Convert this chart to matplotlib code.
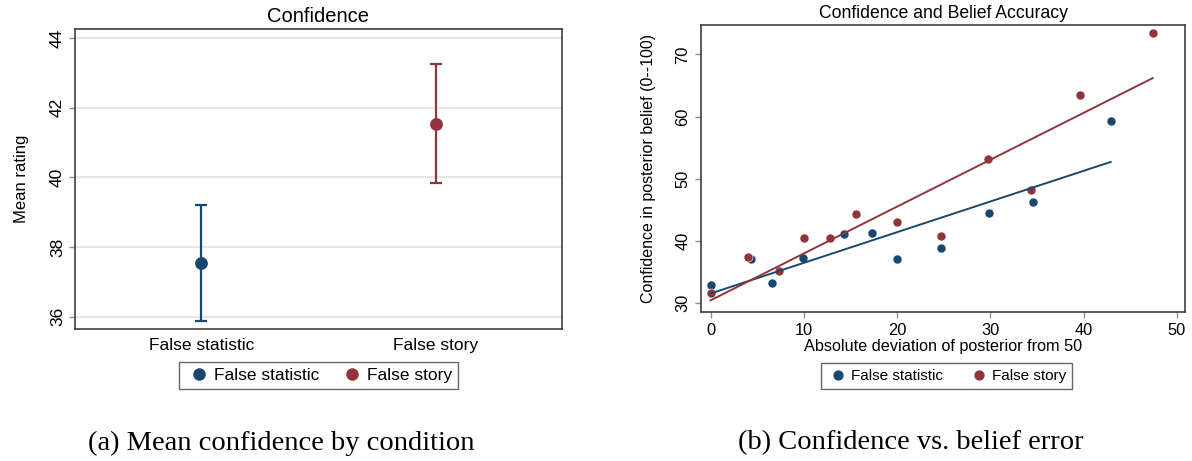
import matplotlib.pyplot as plt
import numpy as np

plt.rcParams['font.family'] = ['Liberation Sans', 'DejaVu Sans']

navy = '#1a476f'
maroon = '#90353b'
labels = ['False statistic', 'False story']

# panel (a): condition means with 95% intervals
means = [37.54, 41.54]
ci_low = [35.88, 39.84]
ci_high = [39.20, 43.26]

# panel (b): binned scatter, |posterior - 50| vs confidence
stat_x = [0, 4.34, 6.63, 9.9, 14.3, 17.3, 20.0, 24.65, 29.9, 34.6, 42.9]
stat_y = [32.8, 37.0, 33.2, 37.2, 41.1, 41.2, 37.1, 38.8, 44.5, 46.3, 59.3]
story_x = [0, 4.05, 7.3, 10.0, 12.8, 15.6, 20.0, 24.7, 29.7, 34.4, 39.6, 47.4]
story_y = [31.6, 37.3, 35.2, 40.4, 40.5, 44.3, 43.0, 40.7, 53.1, 48.1, 63.5, 73.5]
# linear fits (intercept, slope)
stat_fit = [31.5, 0.494]
story_fit = [30.4, 0.755]

W, H = 1192, 461
fig = plt.figure(figsize=(W / 100, H / 100), dpi=100)

frame_col = '#404040'
tick_col = '#8c8c8c'


def style(ax):
    for s in ax.spines.values():
        s.set_color(frame_col)
        s.set_linewidth(1.2)
    ax.tick_params(axis='both', colors=tick_col, length=4.5, width=1.0, labelcolor='black')
    for lab in ax.get_yticklabels():
        lab.set_rotation(90)
        lab.set_va('center')


# ---- (a) ----
ax1 = fig.add_axes([75.3 / W, 1 - 329.3 / H, (561.7 - 75.3) / W, (329.3 - 28.7) / H])
xpos = np.arange(1, len(means) + 1)
for i, c in enumerate([navy, maroon]):
    ax1.errorbar(xpos[i], means[i],
                 yerr=[[means[i] - ci_low[i]], [ci_high[i] - means[i]]],
                 fmt='o', color=c, ms=8.2, elinewidth=1.6, capsize=4, capthick=1.6,
                 zorder=3)
ax1.set_xlim(0.463, 2.537)
ax1.set_ylim(35.64, 44.27)
ax1.set_yticks([36, 38, 40, 42, 44])
ax1.set_xticks(xpos)
ax1.set_xticklabels(labels, fontsize=12.5)
ax1.grid(axis='y', color='#e2e2e2', lw=1.2, zorder=0)
ax1.set_axisbelow(True)
ax1.set_ylabel('Mean rating', fontsize=12, labelpad=15)
ax1.set_title('Confidence', fontsize=14.5, pad=5)
style(ax1)
ax1.tick_params(axis='y', labelsize=12.5, pad=3)
ax1.tick_params(axis='x', length=0, pad=6)

h1 = [plt.Line2D([], [], ls='none', marker='o', color=c, ms=8) for c in (navy, maroon)]
fig.legend(h1, labels, loc='center', bbox_to_anchor=(318.5 / W, 1 - 375.3 / H),
           ncol=2, fontsize=12.5, frameon=True, fancybox=False, edgecolor=frame_col,
           handletextpad=0.1, columnspacing=1.05, borderpad=0.35, handlelength=1.6)

# ---- (b) ----
ax2 = fig.add_axes([701.3 / W, 1 - 311.5 / H, (1185.3 - 701.3) / W, (311.5 - 25.3) / H])
for xs, ys, fit, c in [(stat_x, stat_y, stat_fit, navy), (story_x, story_y, story_fit, maroon)]:
    ax2.plot(xs, ys, 'o', color=c, ms=6.5, mec='white', mew=0.4, zorder=2)
for xs, ys, fit, c in [(stat_x, stat_y, stat_fit, navy), (story_x, story_y, story_fit, maroon)]:
    xx = np.array([min(xs), max(xs)])
    ax2.plot(xx, fit[0] + fit[1] * xx, color=c, lw=1.4, zorder=3)
ax2.set_xlim(-1.0, 50.9)
ax2.set_ylim(28.6, 74.7)
ax2.set_xticks([0, 10, 20, 30, 40, 50])
ax2.set_yticks([30, 40, 50, 60, 70])
ax2.set_xlabel('Absolute deviation of posterior from 50', fontsize=11.7, labelpad=1)
ax2.set_ylabel('Confidence in posterior belief (0--100)', fontsize=11.5, labelpad=14)
ax2.set_title('Confidence and Belief Accuracy', fontsize=12.7, pad=5)
style(ax2)
ax2.tick_params(labelsize=11.8)

fig.legend(h1, labels, loc='center', bbox_to_anchor=(946.5 / W, 1 - 376.3 / H),
           ncol=2, fontsize=11, frameon=True, fancybox=False, edgecolor=frame_col,
           handletextpad=0.1, columnspacing=1.6, borderpad=0.4, handlelength=1.5,
           markerscale=0.8)

# captions
fig.text(281 / W, 1 - 443 / H, '(a) Mean confidence by condition',
         family='Liberation Serif', fontsize=20.5, ha='center', va='center')
fig.text(911 / W, 1 - 443 / H, '(b) Confidence vs. belief error',
         family='Liberation Serif', fontsize=20.5, ha='center', va='center')

fig.savefig('out.png', dpi=100)
